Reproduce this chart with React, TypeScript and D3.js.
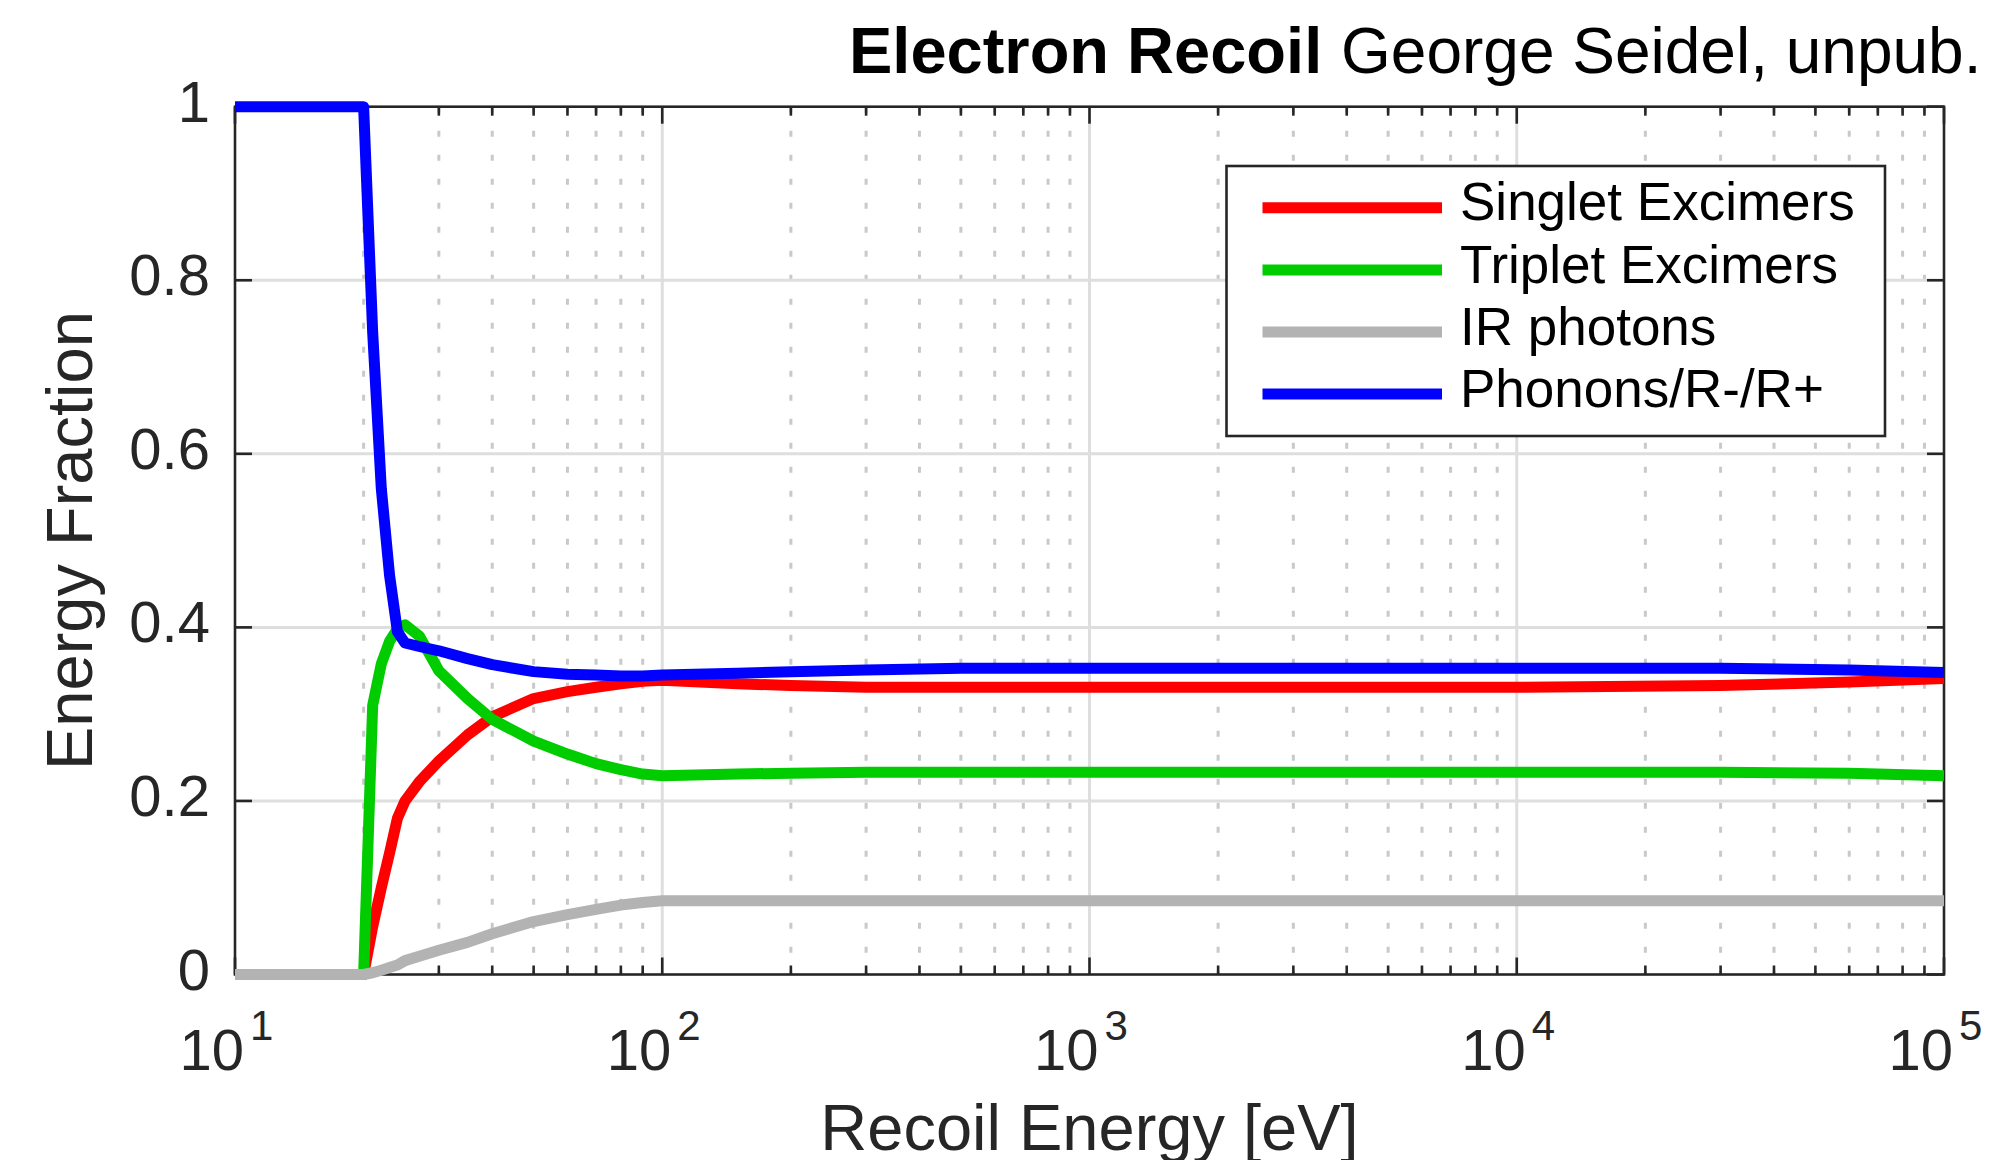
import React from 'react';
import * as d3 from 'd3';

// Recoil energy grid [eV] and the fraction of energy going to each channel
const energy = [10, 20, 21, 22, 23, 24, 25, 27, 30, 35, 40, 50, 60, 70, 80, 90, 100, 150, 200, 300, 500, 1000, 3000, 10000, 30000, 60000, 100000];
const singlet = [0, 0, 0.055, 0.1, 0.14, 0.18, 0.2, 0.222, 0.246, 0.276, 0.297, 0.318, 0.326, 0.331, 0.335, 0.338, 0.339, 0.335, 0.333, 0.331, 0.331, 0.331, 0.331, 0.331, 0.333, 0.337, 0.341];
const triplet = [0, 0, 0.31, 0.358, 0.384, 0.398, 0.403, 0.39, 0.35, 0.318, 0.294, 0.269, 0.254, 0.243, 0.236, 0.231, 0.229, 0.231, 0.232, 0.233, 0.233, 0.233, 0.233, 0.233, 0.233, 0.232, 0.229];
const irPhotons = [0, 0, 0.002, 0.005, 0.008, 0.011, 0.016, 0.021, 0.028, 0.037, 0.047, 0.061, 0.069, 0.075, 0.08, 0.083, 0.085, 0.085, 0.085, 0.085, 0.085, 0.085, 0.085, 0.085, 0.085, 0.085, 0.085];
const phonons = [1, 1, 0.74, 0.56, 0.46, 0.395, 0.382, 0.378, 0.373, 0.364, 0.357, 0.349, 0.346, 0.345, 0.344, 0.344, 0.345, 0.347, 0.349, 0.351, 0.353, 0.353, 0.353, 0.353, 0.353, 0.351, 0.348];

const seriesNames = ['Singlet Excimers', 'Triplet Excimers', 'IR photons', 'Phonons/R-/R+'];
const seriesColors = ['#ff0000', '#00cc00', '#b3b3b3', '#0000ff'];
const seriesValues = [singlet, triplet, irPhotons, phonons];

const xDecades = [10, 100, 1000, 10000, 100000];
const xExponents = ['1', '2', '3', '4', '5'];
const yTicks = [0, 0.2, 0.4, 0.6, 0.8, 1];
const yTickLabels = ['0', '0.2', '0.4', '0.6', '0.8', '1'];

const W = 2007;
const H = 1160;
const L = 235;
const R = 1944;
const T = 106.7;
const B = 974.5;

const AX = '#262626';
const FONT = '"Liberation Sans", Arial, Helvetica, sans-serif';

export default function App() {
  const x = d3.scaleLog().domain([10, 100000]).range([L, R]);
  const y = d3.scaleLinear().domain([0, 1]).range([B, T]);

  const minor: number[] = [];
  for (let d = 10; d < 100000; d *= 10) {
    for (let k = 2; k <= 9; k++) minor.push(d * k);
  }

  const line = d3
    .line<number>()
    .x((_, i) => x(energy[i]))
    .y((v) => y(v));

  const majTick = 17;
  const minTick = 9;

  const legend = { x0: 1226.5, y0: 166, x1: 1885, y1: 436 };
  const rowY = [207.7, 270, 332, 394];

  return (
    <svg
      width={W}
      height={H}
      viewBox={`0 0 ${W} ${H}`}
      style={{ position: 'absolute', left: 0, top: 0, background: '#fff' }}
    >
      <rect x={0} y={0} width={W} height={H} fill="#fff" />

      {/* minor grid (x only, dotted) */}
      {minor.map((m) => (
        <line
          key={`mg${m}`}
          x1={x(m)}
          x2={x(m)}
          y1={T}
          y2={B}
          stroke="#c9c9c9"
          strokeWidth={3}
          strokeDasharray="6 18"
        />
      ))}
      {/* major grid */}
      {xDecades.slice(1, -1).map((d) => (
        <line key={`gx${d}`} x1={x(d)} x2={x(d)} y1={T} y2={B} stroke="#dedede" strokeWidth={3} />
      ))}
      {yTicks.slice(1, -1).map((t) => (
        <line key={`gy${t}`} x1={L} x2={R} y1={y(t)} y2={y(t)} stroke="#dedede" strokeWidth={3} />
      ))}

      {/* axes box */}
      <rect x={L} y={T} width={R - L} height={B - T} fill="none" stroke={AX} strokeWidth={2.6} />

      {/* x ticks, bottom and top */}
      {xDecades.map((d) => (
        <g key={`xt${d}`}>
          <line x1={x(d)} x2={x(d)} y1={B} y2={B - majTick} stroke={AX} strokeWidth={2.6} />
          <line x1={x(d)} x2={x(d)} y1={T} y2={T + majTick} stroke={AX} strokeWidth={2.6} />
        </g>
      ))}
      {minor.map((m) => (
        <g key={`xm${m}`}>
          <line x1={x(m)} x2={x(m)} y1={B} y2={B - minTick} stroke={AX} strokeWidth={2.6} />
          <line x1={x(m)} x2={x(m)} y1={T} y2={T + minTick} stroke={AX} strokeWidth={2.6} />
        </g>
      ))}
      {/* y ticks, left and right */}
      {yTicks.map((t) => (
        <g key={`yt${t}`}>
          <line x1={L} x2={L + majTick} y1={y(t)} y2={y(t)} stroke={AX} strokeWidth={2.6} />
          <line x1={R} x2={R - majTick} y1={y(t)} y2={y(t)} stroke={AX} strokeWidth={2.6} />
        </g>
      ))}

      {/* tick labels */}
      {yTicks.map((t, i) => (
        <text
          key={`yl${t}`}
          x={L - 25}
          y={y(t) + 15}
          textAnchor="end"
          fontFamily={FONT}
          fontSize={58}
          fill={AX}
        >
          {yTickLabels[i]}
        </text>
      ))}
      {xDecades.map((d, i) => (
        <g key={`xl${d}`}>
          <text x={x(d) + 9} y={1070} textAnchor="end" fontFamily={FONT} fontSize={58} fill={AX}>
            10
          </text>
          <text x={x(d) + 15} y={1040} textAnchor="start" fontFamily={FONT} fontSize={42} fill={AX}>
            {xExponents[i]}
          </text>
        </g>
      ))}

      {/* axis labels */}
      <text
        x={(L + R) / 2}
        y={1150}
        textAnchor="middle"
        fontFamily={FONT}
        fontSize={65}
        fill={AX}
      >
        Recoil Energy [eV]
      </text>
      <text
        transform={`translate(92, ${(T + B) / 2}) rotate(-90)`}
        textAnchor="middle"
        fontFamily={FONT}
        fontSize={65}
        fill={AX}
      >
        Energy Fraction
      </text>

      {/* title */}
      <text x={849} y={73} fontFamily={FONT} fontSize={65} fontWeight="bold" fill="#000">
        Electron Recoil
      </text>
      <text x={1341} y={73} fontFamily={FONT} fontSize={64} fill="#000">
        George Seidel, unpub.
      </text>

      {/* data */}
      {seriesValues.map((vals, i) => (
        <path
          key={seriesNames[i]}
          d={line(vals) || ''}
          fill="none"
          stroke={seriesColors[i]}
          strokeWidth={11}
          strokeLinejoin="round"
        />
      ))}

      {/* legend */}
      <rect
        x={legend.x0}
        y={legend.y0}
        width={legend.x1 - legend.x0}
        height={legend.y1 - legend.y0}
        fill="#fff"
        stroke={AX}
        strokeWidth={2.6}
      />
      {seriesNames.map((n, i) => (
        <g key={`lg${n}`}>
          <line x1={1262.5} x2={1442} y1={rowY[i]} y2={rowY[i]} stroke={seriesColors[i]} strokeWidth={11} />
          <text x={1460} y={rowY[i] + 12.5} fontFamily={FONT} fontSize={53} fill="#000">
            {n}
          </text>
        </g>
      ))}
    </svg>
  );
}
